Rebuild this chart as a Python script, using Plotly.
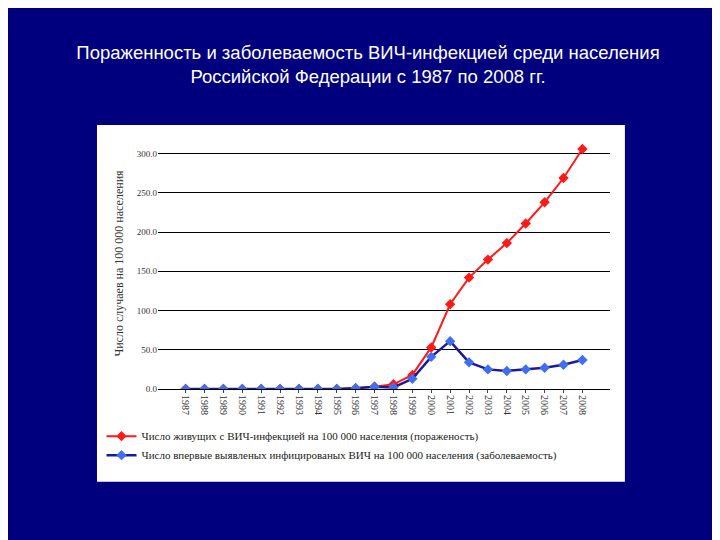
import plotly.graph_objects as go

years = [str(y) for y in range(1987, 2009)]
prevalence = [0, 0, 0, 0, 0, 0, 0, 0, 0, 1, 3, 6, 18, 53, 108, 142, 165, 186, 211, 238, 269, 306]
incidence = [0, 0, 0, 0, 0, 0, 0, 0, 0, 1, 3, 2, 13, 41, 61, 34, 25, 23, 25, 27, 31, 37]

fig = go.Figure()
fig.add_trace(go.Scatter(
    x=years, y=prevalence, mode="lines+markers",
    name="Число живущих с ВИЧ-инфекцией на 100 000 населения (пораженость)",
    line=dict(color="#ff1a1a", width=2),
    marker=dict(symbol="diamond", size=8, color="#ff1a1a"),
))
fig.add_trace(go.Scatter(
    x=years, y=incidence, mode="lines+markers",
    name="Число впервые выявленых инфицированых ВИЧ на 100 000 населения (заболеваемость)",
    line=dict(color="#1a1aa0", width=2.5),
    marker=dict(symbol="diamond", size=8, color="#3f6fef"),
))

# white inset box behind the chart
fig.add_shape(type="rect", xref="paper", yref="paper",
              x0=-0.135, x1=1.033, y0=-0.37, y1=1.052,
              fillcolor="white", line=dict(width=0), layer="below")

fig.update_layout(
    width=720, height=540,
    paper_bgcolor="#00007f", plot_bgcolor="white",
    margin=dict(l=150, r=118, t=130, b=159),
    title=dict(
        text="Пораженность и заболеваемость ВИЧ-инфекцией среди населения<br>Российской Федерации с 1987 по 2008 гг.",
        x=0.5, xanchor="center", y=0.905, yanchor="middle",
        font=dict(family="Liberation Sans, Arial", size=18.5, color="white"),
    ),
    font=dict(family="Liberation Serif, Times New Roman", size=9, color="#333"),
    showlegend=True,
    legend=dict(x=-0.125, y=-0.13, xanchor="left", yanchor="top",
                bgcolor="rgba(0,0,0,0)", tracegroupgap=2,
                font=dict(family="Liberation Serif", size=11, color="#222")),
)
fig.update_xaxes(type="category", tickangle=90, showgrid=False,
                 showline=True, linecolor="black", ticks="outside", ticklen=3,
                 tickfont=dict(size=10))
fig.update_yaxes(range=[0, 320], dtick=50, tickformat=".1f", showgrid=True,
                 gridcolor="black", gridwidth=1, zeroline=False,
                 showline=False, tickfont=dict(size=9),
                 title=dict(text="Число случаев на 100 000 населения",
                            font=dict(size=12), standoff=10))

fig.write_html("out.html")
